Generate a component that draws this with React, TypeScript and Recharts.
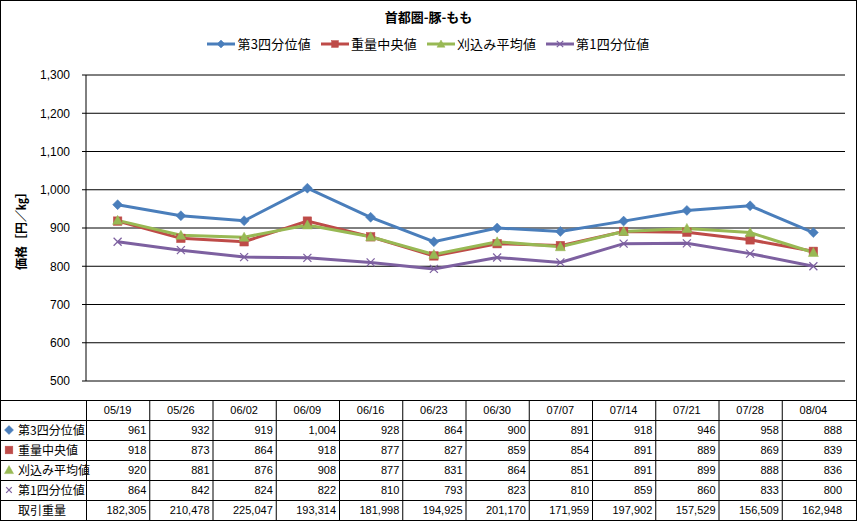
import React from 'react';
import { LineChart, Line, XAxis, YAxis, CartesianGrid } from 'recharts';

const categories = ['05/19', '05/26', '06/02', '06/09', '06/16', '06/23', '06/30', '07/07', '07/14', '07/21', '07/28', '08/04'];
const q3Values = [961, 932, 919, 1004, 928, 864, 900, 891, 918, 946, 958, 888];
const medianValues = [918, 873, 864, 918, 877, 827, 859, 854, 891, 889, 869, 839];
const trimmedValues = [920, 881, 876, 908, 877, 831, 864, 851, 891, 899, 888, 836];
const q1Values = [864, 842, 824, 822, 810, 793, 823, 810, 859, 860, 833, 800];
const volumeValues = [182305, 210478, 225047, 193314, 181998, 194925, 201170, 171959, 197902, 157529, 156509, 162948];
const yTicks = [500, 600, 700, 800, 900, 1000, 1100, 1200, 1300];

const TITLE = '首都圏-豚-もも';
const Y_LABEL = '価格［円／㎏］';
const VOLUME_LABEL = '取引重量';

type Shape = 'diamond' | 'square' | 'triangle' | 'x';
const series: { key: string; name: string; color: string; shape: Shape; values: number[] }[] = [
  { key: 'q3', name: '第3四分位値', color: '#4A7EBB', shape: 'diamond', values: q3Values },
  { key: 'median', name: '重量中央値', color: '#BE4B48', shape: 'square', values: medianValues },
  { key: 'trimmed', name: '刈込み平均値', color: '#98B954', shape: 'triangle', values: trimmedValues },
  { key: 'q1', name: '第1四分位値', color: '#7D60A0', shape: 'x', values: q1Values },
];

const data = categories.map((c, i) => {
  const row: Record<string, string | number> = { date: c };
  series.forEach((s) => {
    row[s.key] = s.values[i];
  });
  return row;
});

const W = 857;
const H = 521;
const LEFT = 86;
const RIGHT_MARGIN = 12;
const TOP = 75;
const PLOT_BOTTOM = 381;
const COL_W = (W - LEFT - RIGHT_MARGIN) / categories.length;
const TABLE_TOP = 400;
const ROW_H = 20;
const NUM_FONT = '"Liberation Sans", Arial, "Noto Sans CJK JP", sans-serif';
const JP_FONT = '"Noto Sans CJK JP", sans-serif';

const fmt = (v: number) => v.toLocaleString('en-US');

function Marker({ shape, color, cx, cy, s }: { shape: Shape; color: string; cx: number; cy: number; s: number }) {
  if (shape === 'diamond') {
    return <polygon points={`${cx},${cy - s} ${cx + s},${cy} ${cx},${cy + s} ${cx - s},${cy}`} fill={color} stroke={color} strokeWidth={0.5} />;
  }
  if (shape === 'square') {
    return <rect x={cx - s * 0.85} y={cy - s * 0.85} width={s * 1.7} height={s * 1.7} fill={color} stroke={color} strokeWidth={0.5} />;
  }
  if (shape === 'triangle') {
    return <polygon points={`${cx},${cy - s} ${cx + s},${cy + s * 0.8} ${cx - s},${cy + s * 0.8}`} fill={color} stroke={color} strokeWidth={0.5} />;
  }
  const d = s * 0.8;
  return (
    <g stroke={color} strokeWidth={1.2}>
      <line x1={cx - d} y1={cy - d} x2={cx + d} y2={cy + d} />
      <line x1={cx - d} y1={cy + d} x2={cx + d} y2={cy - d} />
    </g>
  );
}

const makeDot = (shape: Shape, color: string) => (p: any) => {
  const { cx, cy, index } = p;
  if (cx == null || cy == null) return <g key={`d-${index}`} />;
  return (
    <g key={`d-${index}`}>
      <Marker shape={shape} color={color} cx={cx} cy={cy} s={5} />
    </g>
  );
};

function TableTick(props: any) {
  const { x, payload } = props;
  const i = payload.index;
  const rows = series.length + 1;
  const bottom = TABLE_TOP + ROW_H * (rows + 1);
  const right = x + COL_W / 2;
  const left = x - COL_W / 2;
  return (
    <g>
      {i === 0 && (
        <g>
          {Array.from({ length: rows + 1 }, (_, r) => (
            <line key={`h${r}`} x1={0} x2={W} y1={TABLE_TOP + ROW_H * r + 0.5} y2={TABLE_TOP + ROW_H * r + 0.5} stroke="#000" strokeWidth={1} />
          ))}
          <line x1={left + 0.5} x2={left + 0.5} y1={TABLE_TOP} y2={bottom} stroke="#000" strokeWidth={1} />
          {series.map((s, r) => {
            const cy = TABLE_TOP + ROW_H * (r + 1) + ROW_H / 2;
            return (
              <g key={`lab${r}`}>
                <Marker shape={s.shape} color={s.color} cx={9} cy={cy} s={s.shape === 'x' ? 3.5 : 4.5} />
                <text x={18} y={cy + 4.5} fontSize={12} fontFamily={JP_FONT} fill="#000">
                  {s.name}
                </text>
              </g>
            );
          })}
          <text x={18} y={TABLE_TOP + ROW_H * rows + ROW_H / 2 + 4.5} fontSize={12} fontFamily={JP_FONT} fill="#000">
            {VOLUME_LABEL}
          </text>
        </g>
      )}
      {i < categories.length - 1 && (
        <line x1={right + 0.5} x2={right + 0.5} y1={TABLE_TOP} y2={bottom} stroke="#000" strokeWidth={1} />
      )}
      <text x={x} y={TABLE_TOP + ROW_H / 2 + 4} textAnchor="middle" fontSize={11} fontFamily={NUM_FONT} fill="#000">
        {payload.value}
      </text>
      {series.map((s, r) => (
        <text key={`v${r}`} x={right - 3} y={TABLE_TOP + ROW_H * (r + 1) + ROW_H / 2 + 4} textAnchor="end" fontSize={11} fontFamily={NUM_FONT} fill="#000">
          {fmt(s.values[i])}
        </text>
      ))}
      <text x={right - 3} y={TABLE_TOP + ROW_H * rows + ROW_H / 2 + 4} textAnchor="end" fontSize={11} fontFamily={NUM_FONT} fill="#000">
        {fmt(volumeValues[i])}
      </text>
    </g>
  );
}

function LegendIcon({ shape, color }: { shape: Shape; color: string }) {
  return (
    <svg width={28} height={12} style={{ display: 'block' }}>
      <line x1={0} x2={28} y1={6} y2={6} stroke={color} strokeWidth={3} />
      <Marker shape={shape} color={color} cx={14} cy={6} s={4} />
    </svg>
  );
}

export default function App() {
  return (
    <div style={{ position: 'absolute', left: 0, top: 0, width: W, height: H, background: '#fff' }}>
      <LineChart width={W} height={H} data={data} margin={{ top: TOP, right: RIGHT_MARGIN, bottom: 0, left: 0 }}>
        <CartesianGrid vertical={false} stroke="#000" strokeWidth={1} />
        <XAxis
          dataKey="date"
          interval={0}
          axisLine={false}
          tickLine={false}
          height={H - PLOT_BOTTOM}
          padding={{ left: COL_W / 2, right: COL_W / 2 }}
          tick={<TableTick />}
        />
        <YAxis
          domain={[500, 1300]}
          ticks={yTicks}
          width={LEFT}
          tickFormatter={fmt}
          axisLine={{ stroke: '#000' }}
          tickLine={{ stroke: '#000' }}
          tickSize={4}
          tickMargin={12}
          tick={{ fontSize: 12, fill: '#000', fontFamily: NUM_FONT }}
          allowDataOverflow
          label={{
            value: Y_LABEL,
            angle: -90,
            position: 'insideLeft',
            offset: 0,
            dx: 22,
            style: { fontSize: 12, fontWeight: 'bold', fill: '#000', fontFamily: JP_FONT, textAnchor: 'middle' },
          }}
        />
        {series.map((s) => (
          <Line
            key={s.key}
            dataKey={s.key}
            name={s.name}
            type="linear"
            stroke={s.color}
            strokeWidth={3}
            dot={makeDot(s.shape, s.color)}
            activeDot={false}
            isAnimationActive={false}
          />
        ))}
      </LineChart>
      <div
        style={{
          position: 'absolute',
          left: 0,
          top: 7,
          width: W,
          textAlign: 'center',
          fontFamily: JP_FONT,
          fontWeight: 'bold',
          fontSize: 13,
          lineHeight: '20px',
        }}
      >
        {TITLE}
      </div>
      <div
        style={{
          position: 'absolute',
          left: 0,
          top: 35,
          width: W,
          display: 'flex',
          justifyContent: 'center',
          alignItems: 'center',
          gap: 10,
          fontFamily: JP_FONT,
          fontSize: 13,
          letterSpacing: 0.2,
          lineHeight: '18px',
        }}
      >
        {series.map((s) => (
          <div key={s.key} style={{ display: 'flex', alignItems: 'center', gap: 2 }}>
            <LegendIcon shape={s.shape} color={s.color} />
            <span>{s.name}</span>
          </div>
        ))}
      </div>
      <div
        style={{
          position: 'absolute',
          left: 0,
          top: 0,
          width: W,
          height: H,
          border: '1px solid #000',
          boxSizing: 'border-box',
          pointerEvents: 'none',
        }}
      />
    </div>
  );
}
